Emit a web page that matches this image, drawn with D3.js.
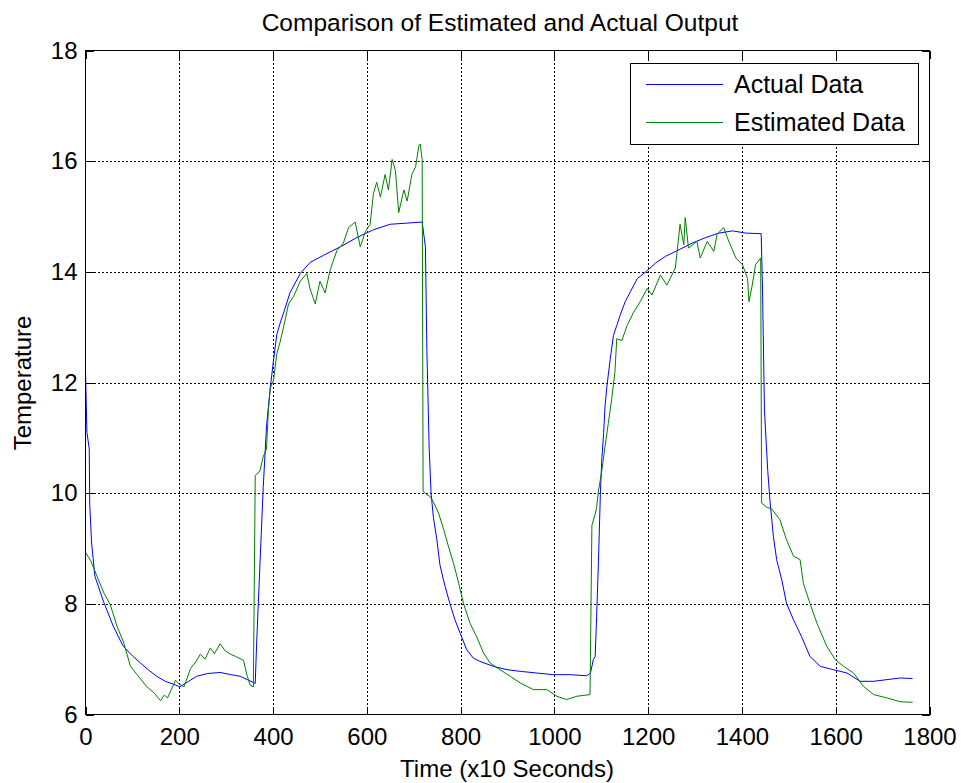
<!DOCTYPE html>
<html>
<head>
<meta charset="utf-8">
<script src="https://cdn.jsdelivr.net/npm/d3@7"></script>
<style>
  html, body { margin: 0; padding: 0; background: #fff; }
  svg { display: block; }
  text { font-family: "Liberation Sans", Arial, Helvetica, sans-serif; fill: #000; }
</style>
</head>
<body>
<svg id="chart" width="961" height="783"></svg>
<script>
// ---- Data ----
const xTickValues = [0, 200, 400, 600, 800, 1000, 1200, 1400, 1600, 1800];
const yTickValues = [6, 8, 10, 12, 14, 16, 18];
const seriesNames = ["Actual Data", "Estimated Data"];

const timeActual = [0,3,8,9,13,20,38,59,80,100,116,135,152,170,187,201,220,237,260,287,310,330,345,358,362,365,372,379,386,394,401,408,415,426,436,458,479,508,543,579,614,650,685,718,725,728,733,737,742,749,756,767,777,788,799,813,827,841,870,899,927,962,998,1034,1069,1077,1083,1087,1090,1094,1098,1101,1105,1108,1112,1119,1126,1133,1140,1151,1162,1177,1195,1216,1237,1266,1294,1323,1351,1380,1408,1441,1444,1448,1455,1460,1467,1474,1485,1495,1510,1527,1545,1567,1595,1624,1652,1681,1709,1738,1764];
const actual = [12.2,11.1,10.8,9.8,9.1,8.5,8.05,7.6,7.24,7.06,6.94,6.8,6.69,6.6,6.55,6.5,6.6,6.69,6.74,6.76,6.72,6.69,6.63,6.58,6.56,7.29,8.7,10.1,11.2,11.9,12.4,12.87,13.07,13.35,13.62,13.97,14.17,14.3,14.45,14.62,14.76,14.86,14.88,14.9,14.45,12.6,10.8,10.0,9.56,9.18,8.7,8.31,8.01,7.71,7.47,7.17,7.02,6.96,6.87,6.81,6.78,6.75,6.72,6.72,6.7,6.75,6.99,7.05,7.75,8.76,9.98,10.59,11.08,11.57,11.93,12.42,12.85,13.03,13.21,13.46,13.64,13.88,14.0,14.16,14.28,14.4,14.52,14.62,14.7,14.74,14.7,14.69,13.64,11.5,10.41,9.84,9.22,8.8,8.43,8.01,7.71,7.41,7.05,6.87,6.81,6.75,6.6,6.6,6.63,6.66,6.65];

const timeEstimated = [0,11,25,39,53,67,81,96,110,131,145,160,168,175,182,192,200,210,224,235,245,255,266,275,287,298,309,320,337,344,351,358,362,372,379,386,390,394,401,408,415,426,433,444,458,472,479,490,500,511,522,536,550,561,575,586,597,607,614,621,629,639,646,654,661,668,679,686,696,704,711,714,718,720,728,735,742,753,764,774,785,796,806,820,834,849,863,884,906,927,955,984,1005,1026,1048,1076,1080,1087,1090,1094,1101,1108,1115,1122,1129,1133,1144,1155,1169,1183,1198,1208,1226,1240,1258,1268,1276,1279,1286,1304,1311,1326,1340,1347,1361,1372,1387,1401,1412,1415,1422,1429,1440,1442,1454,1463,1481,1495,1510,1524,1531,1545,1560,1581,1599,1617,1638,1659,1681,1709,1738,1764];
const estimated = [8.93,8.78,8.49,8.2,7.98,7.6,7.31,6.87,6.72,6.5,6.4,6.25,6.35,6.3,6.43,6.62,6.55,6.5,6.83,6.95,7.09,7.0,7.2,7.1,7.28,7.15,7.09,7.05,6.98,6.72,6.53,6.5,10.32,10.4,10.66,10.8,11.49,11.9,12.04,12.52,12.73,13.14,13.42,13.56,13.83,13.97,13.69,13.42,13.83,13.62,14.04,14.38,14.52,14.8,14.9,14.45,14.73,14.86,15.41,15.62,15.35,15.76,15.48,16.03,15.83,15.07,15.48,15.28,15.76,15.9,16.28,16.31,16.03,10.04,9.97,9.94,9.84,9.64,9.34,9.04,8.73,8.37,8.01,7.65,7.41,7.11,6.93,6.81,6.69,6.57,6.45,6.45,6.33,6.27,6.33,6.36,9.42,9.62,9.74,10.04,10.4,10.84,11.26,11.69,12.18,12.79,12.76,13.03,13.27,13.46,13.7,13.58,13.94,13.76,14.07,14.86,14.49,14.98,14.43,14.55,14.25,14.55,14.37,14.68,14.8,14.55,14.25,14.13,13.88,13.46,13.76,14.13,14.25,9.82,9.74,9.72,9.52,9.16,8.86,8.8,8.37,8.01,7.65,7.23,6.99,6.87,6.75,6.51,6.36,6.3,6.23,6.22];

// ---- Layout ----
const svg = d3.select("#chart");
const L = 85.5, R = 929.5, T = 50.5, B = 714.5;
const x = d3.scaleLinear().domain([0, 1800]).range([L, R]);
const y = d3.scaleLinear().domain([6, 18]).range([B, T]);
const FONT = 24;

// grid
const grid = svg.append("g").attr("stroke", "#000").attr("stroke-width", 1)
  .attr("stroke-dasharray", "2,2").attr("shape-rendering", "crispEdges");
xTickValues.slice(1, -1).forEach(v => {
  grid.append("line").attr("x1", Math.round(x(v)) + 0.5).attr("x2", Math.round(x(v)) + 0.5)
    .attr("y1", T).attr("y2", B);
});
yTickValues.slice(1, -1).forEach(v => {
  grid.append("line").attr("y1", Math.round(y(v)) + 0.5).attr("y2", Math.round(y(v)) + 0.5)
    .attr("x1", L).attr("x2", R);
});

// lines
const lineGen = d3.line().x(d => x(d[0])).y(d => y(d[1]));
const actualPts = timeActual.map((t, i) => [t, actual[i]]);
const estPts = timeEstimated.map((t, i) => [t, estimated[i]]);
const colors = ["#0000ff", "#008000"];
svg.append("path").datum(actualPts).attr("d", lineGen)
  .attr("fill", "none").attr("stroke", colors[0]).attr("stroke-width", 1);
svg.append("path").datum(estPts).attr("d", lineGen)
  .attr("fill", "none").attr("stroke", colors[1]).attr("stroke-width", 1);

// axes
function styleAxis(g) {
  g.select(".domain").remove();
  g.selectAll(".tick line").attr("stroke", "#000").attr("shape-rendering", "crispEdges");
  g.selectAll(".tick text").attr("font-size", FONT).attr("font-family", '"Liberation Sans", Arial, sans-serif').attr("fill", "#000");
}
svg.append("g").attr("transform", `translate(0,${B})`)
  .call(d3.axisBottom(x).tickValues(xTickValues).tickSize(-8).tickPadding(13).tickFormat(d3.format("d")))
  .call(styleAxis);
svg.append("g").attr("transform", `translate(0,${T})`)
  .call(d3.axisTop(x).tickValues(xTickValues).tickSize(-8).tickFormat(""))
  .call(styleAxis);
svg.append("g").attr("transform", `translate(${L},0)`)
  .call(d3.axisLeft(y).tickValues(yTickValues).tickSize(-8).tickPadding(8).tickFormat(d3.format("d")))
  .call(styleAxis);
svg.append("g").attr("transform", `translate(${R},0)`)
  .call(d3.axisRight(y).tickValues(yTickValues).tickSize(-8).tickFormat(""))
  .call(styleAxis);

// box
svg.append("rect").attr("x", L).attr("y", T).attr("width", R - L).attr("height", B - T)
  .attr("fill", "none").attr("stroke", "#000").attr("stroke-width", 1).attr("shape-rendering", "crispEdges");

// title & labels
svg.append("text").attr("x", 500).attr("y", 31).attr("text-anchor", "middle")
  .attr("font-size", 24.5).text("Comparison of Estimated and Actual Output");
svg.append("text").attr("x", 507).attr("y", 777).attr("text-anchor", "middle")
  .attr("font-size", FONT).text("Time (x10 Seconds)");
svg.append("text").attr("transform", "translate(31,383) rotate(-90)").attr("text-anchor", "middle")
  .attr("font-size", FONT).text("Temperature");

// legend
const lg = svg.append("g");
lg.append("rect").attr("x", 630.5).attr("y", 63.5).attr("width", 288).attr("height", 81)
  .attr("fill", "#fff").attr("stroke", "#000").attr("stroke-width", 1).attr("shape-rendering", "crispEdges");
const legendY = [84, 122];
seriesNames.forEach((name, i) => {
  lg.append("line").attr("x1", 646).attr("x2", 723).attr("y1", legendY[i] + 0.5).attr("y2", legendY[i] + 0.5)
    .attr("stroke", colors[i]).attr("stroke-width", 1);
  lg.append("text").attr("x", 734).attr("y", legendY[i] + 9).attr("font-size", 25).text(name);
});
</script>
</body>
</html>
